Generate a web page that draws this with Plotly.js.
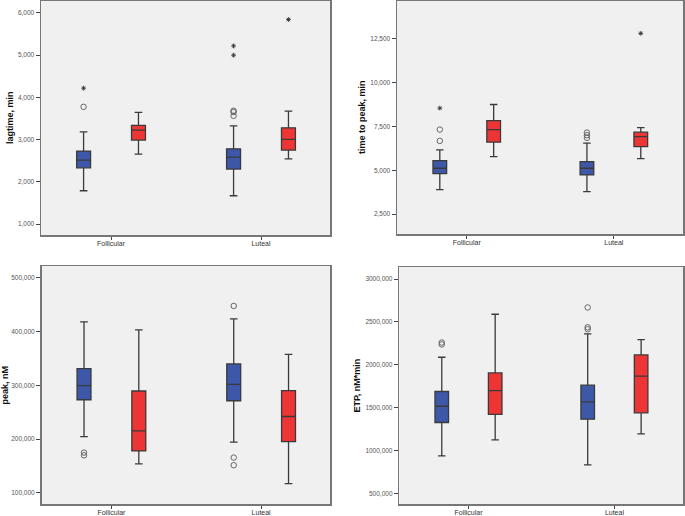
<!DOCTYPE html>
<html>
<head>
<meta charset="utf-8">
<script src="https://cdn.plot.ly/plotly-3.0.1.min.js"></script>
<style>html,body{margin:0;padding:0;background:#fff;}#chart{width:685px;height:516px;}</style>
</head>
<body>
<div id="chart"></div>
<script>
// Categories on every panel
const categories = ['Follicular', 'Luteal'];

// Five-number summaries per category: [lower whisker, Q1, median, Q3, upper whisker]
// Panel 1: lagtime, min
const lagBlue = [[1.787, 2.331, 2.513, 2.726, 3.182], [1.669, 2.300, 2.584, 2.780, 3.324]];
const lagRed  = [[2.655, 2.986, 3.222, 3.333, 3.640], [2.544, 2.749, 3.002, 3.277, 3.671]];
const lagBlueCircles = [[3.773], [3.680, 3.650, 3.560]];
const lagBlueStars   = [[4.215], [5.215, 4.995]];
const lagRedCircles  = [[], []];
const lagRedStars    = [[], [5.840]];

// Panel 2: time to peak, min
const ttpBlue = [[3.890, 4.806, 5.114, 5.549, 6.161], [3.776, 4.731, 5.114, 5.492, 6.545]];
const ttpRed  = [[5.778, 6.602, 7.323, 7.838, 8.753], [5.664, 6.350, 6.922, 7.174, 7.437]];
const ttpBlueCircles = [[6.676, 7.323], [6.850, 7.000, 7.150]];
const ttpBlueStars   = [[8.547], []];
const ttpRedCircles  = [[], []];
const ttpRedStars    = [[], [12.814]];

// Panel 3: peak, nM
const peakBlue = [[204.8, 273.2, 299.3, 331.0, 417.9], [194.4, 271.3, 301.9, 339.7, 423.5]];
const peakRed  = [[154.0, 178.2, 215.5, 289.4, 403.0], [117.3, 195.5, 242.1, 290.0, 357.5]];
const peakBlueCircles = [[175.0, 170.0], [447.4, 165.8, 151.6]];
const peakBlueStars   = [[], []];
const peakRedCircles  = [[], []];
const peakRedStars    = [[], []];

// Panel 4: ETP, nM*min
const etpBlue = [[937, 1326, 1516, 1688, 2087], [832, 1365, 1567, 1761, 2361]];
const etpRed  = [[1124, 1420, 1699, 1904, 2589], [1193, 1439, 1866, 2114, 2294]];
const etpBlueCircles = [[2259, 2237], [2668, 2437, 2414]];
const etpBlueStars   = [[], []];
const etpRedCircles  = [[], []];
const etpRedStars    = [[], []];

const BLUE = '#3d58a8', RED = '#ee3535';
const OFF = 0.183, BW = 0.093;

const panels = [
  {blue: lagBlue, red: lagRed, bc: lagBlueCircles, bs: lagBlueStars, rc: lagRedCircles, rs: lagRedStars,
   title: 'lagtime, min', yr: [0.74, 6.29], dtick: 1, xr: [-0.467, 1.46],
   xd: [41/685, 330/685], yd: [1 - 235/516, 1 - 0.5/516]},
  {blue: ttpBlue, red: ttpRed, bc: ttpBlueCircles, bs: ttpBlueStars, rc: ttpRedCircles, rs: ttpRedStars,
   title: 'time to peak, min', yr: [1.36, 14.69], dtick: 2.5, xr: [-0.474, 1.47],
   xd: [397/685, 683/685], yd: [1 - 234/516, 1 - 0.5/516]},
  {blue: peakBlue, red: peakRed, bc: peakBlueCircles, bs: peakBlueStars, rc: peakRedCircles, rs: peakRedStars,
   title: 'peak, nM', yr: [79, 521.6], dtick: 100, xr: [-0.467, 1.46],
   xd: [41.5/685, 330/685], yd: [1 - 504.3/516, 1 - 266/516]},
  {blue: etpBlue, red: etpRed, bc: etpBlueCircles, bs: etpBlueStars, rc: etpRedCircles, rs: etpRedStars,
   title: 'ETP, nM*min', yr: [372, 3140], dtick: 500, xr: [-0.474, 1.47],
   xd: [399.3/685, 683/685], yd: [1 - 504.3/516, 1 - 267/516]}
];

const traces = [];
const layout = {
  width: 685, height: 516,
  margin: {l: 0, r: 0, t: 0, b: 0},
  paper_bgcolor: '#ffffff',
  plot_bgcolor: '#f0f0f0',
  showlegend: false,
  separators: ',.',
  font: {family: 'Liberation Sans, Arial, sans-serif', color: '#333'}
};

function boxTrace(summ, sign, color, xa, ya) {
  return {
    type: 'box', xaxis: xa, yaxis: ya,
    x: categories.map((c, i) => i + sign * OFF),
    lowerfence: summ.map(s => s[0]),
    q1: summ.map(s => s[1]),
    median: summ.map(s => s[2]),
    q3: summ.map(s => s[3]),
    upperfence: summ.map(s => s[4]),
    width: BW, whiskerwidth: 0.55,
    fillcolor: color,
    line: {color: '#3a3a3a', width: 1.3},
    boxpoints: false, hoverinfo: 'skip'
  };
}

function pointTrace(groups, sign, symbol, size, color, lw, xa, ya) {
  const xs = [], ys = [];
  groups.forEach((g, i) => g.forEach(v => { xs.push(i + sign * OFF); ys.push(v); }));
  return {
    type: 'scatter', mode: 'markers', xaxis: xa, yaxis: ya, x: xs, y: ys,
    marker: {symbol: symbol, size: size, color: color, line: {color: color, width: lw}},
    hoverinfo: 'skip'
  };
}

panels.forEach((p, k) => {
  const n = k === 0 ? '' : String(k + 1);
  const xa = 'x' + n, ya = 'y' + n;
  traces.push(boxTrace(p.blue, -1, BLUE, xa, ya));
  traces.push(boxTrace(p.red, 1, RED, xa, ya));
  traces.push(pointTrace(p.bc, -1, 'circle-open', 5.5, '#666', 1, xa, ya));
  traces.push(pointTrace(p.rc, 1, 'circle-open', 5.5, '#666', 1, xa, ya));
  traces.push(pointTrace(p.bs, -1, 'asterisk-open', 4, '#333', 0.9, xa, ya));
  traces.push(pointTrace(p.rs, 1, 'asterisk-open', 4, '#333', 0.9, xa, ya));

  layout['xaxis' + n] = {
    domain: p.xd, anchor: ya, range: p.xr,
    tickvals: categories.map((c, i) => i), ticktext: categories,
    ticks: 'outside', ticklen: 3, tickcolor: '#444', tickwidth: 1,
    ticklabelstandoff: -2,
    tickfont: {size: 7, color: '#333'},
    showline: true, linecolor: '#777', linewidth: 1.5, mirror: true,
    showgrid: false, zeroline: false, fixedrange: true
  };
  layout['yaxis' + n] = {
    domain: p.yd, anchor: xa, range: p.yr, dtick: p.dtick, tick0: 0,
    tickformat: '.3f',
    ticks: 'outside', ticklen: 4, tickcolor: '#444', tickwidth: 1,
    tickfont: {size: 6.5, color: '#555'},
    showline: true, linecolor: '#777', linewidth: 1.5, mirror: true,
    showgrid: false, zeroline: false, fixedrange: true,
    title: {text: '<b>' + p.title + '</b>', font: {size: 9, color: '#111'}, standoff: 3}
  };
});

Plotly.newPlot('chart', traces, layout, {displayModeBar: false, staticPlot: true});
</script>
</body>
</html>
